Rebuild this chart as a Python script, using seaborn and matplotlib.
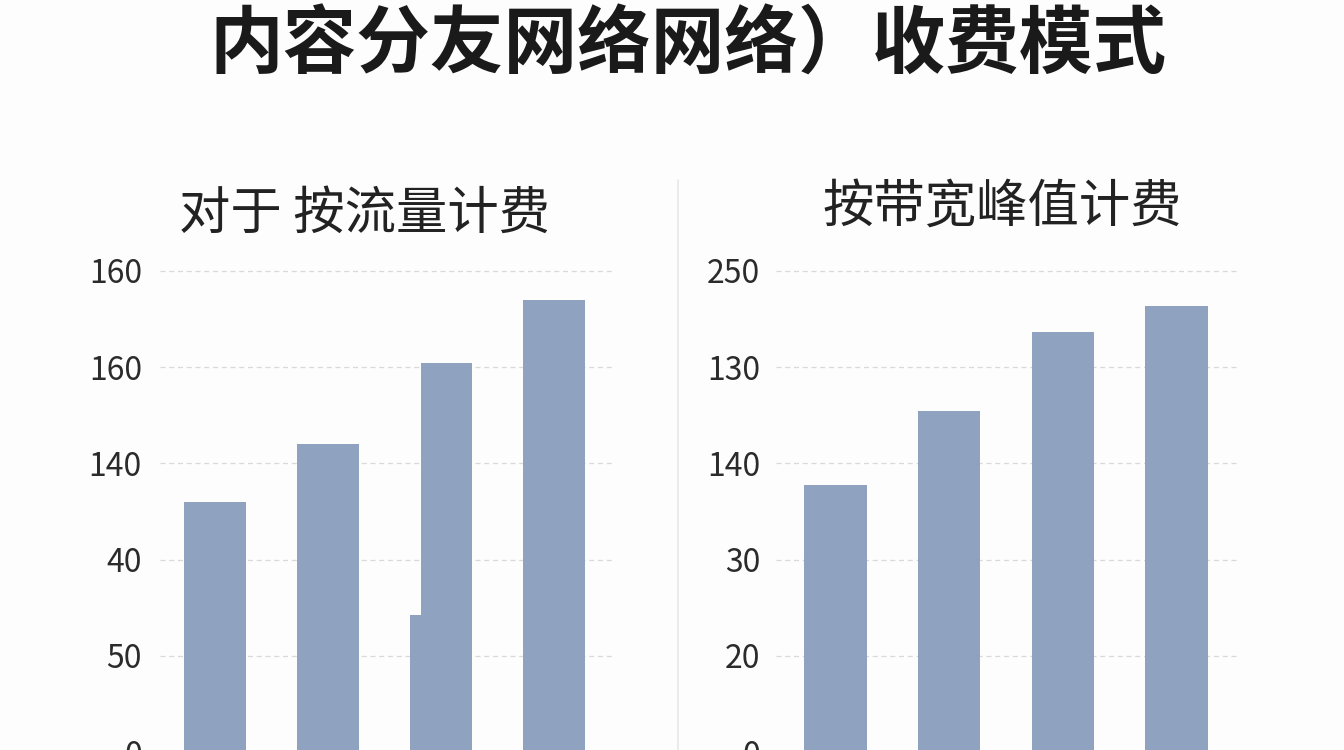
import numpy as np
import pandas as pd
import seaborn as sns
import matplotlib.pyplot as plt
from matplotlib.lines import Line2D

# Chart values (the axis labels in the source are not monotonic, so the
# bars sit on a 0-250 scale and the tick texts are kept as read)
tiers = ["档位1", "档位2", "档位3", "档位4"]
traffic_values = [130, 160, 202, 235]
traffic_step = 71            # short step on the left side of the third bar
peak_values = [139, 177, 218, 232]

tick_positions = [0, 50, 100, 150, 200, 250]
traffic_ticklabels = ["0", "50", "40", "140", "160", "160"]
peak_ticklabels = ["0", "20", "30", "140", "130", "250"]

main_title = "内容分友网络网络）收费模式"
traffic_title = "对于 按流量计费"
peak_title = "按带宽峰值计费"

bar_color = "#8fa3c1"

sns.set_theme(style="white")
plt.rcParams['font.family'] = ['Noto Sans CJK SC', 'DejaVu Sans']

fig = plt.figure(figsize=(13.44, 7.5), dpi=100)
fig.patch.set_facecolor("#fdfdfd")

ax_l = fig.add_axes([0.119, -0.0027, 0.3385, 0.68])
ax_r = fig.add_axes([0.5774, -0.0027, 0.343, 0.68])

bar_w = 0.55


def draw_panel(ax, values, ticklabels, pad, xlim):
    df = pd.DataFrame({"tier": tiers, "value": values})
    sns.barplot(data=df, x="tier", y="value", color=bar_color,
                width=bar_w, saturation=1, linewidth=0, edgecolor="none",
                ax=ax, zorder=3)
    ax.set_facecolor("none")
    ax.set_ylim(0, 265)
    ax.set_xlim(*xlim)
    ax.set_yticks(tick_positions)
    ax.set_yticklabels(ticklabels)
    ax.tick_params(axis="y", length=0, pad=pad, labelsize=23, labelcolor="#2b2b2b")
    ax.set_xticks([])
    ax.set_xlabel("")
    ax.set_ylabel("")
    ax.grid(axis="y", color="#d9d9d9", linestyle=(0, (4, 3)), linewidth=0.9, zorder=0)
    ax.set_axisbelow(True)
    for s in ax.spines.values():
        s.set_visible(False)


draw_panel(ax_l, traffic_values, traffic_ticklabels, 13, (-0.487, 3.54))
draw_panel(ax_r, peak_values, peak_ticklabels, 11.5, (-0.52, 3.53))

# third traffic bar: narrow upper part plus a wider short step at its base
p = ax_l.patches[2]
p.set_x(p.get_x() + 0.1)
p.set_width(p.get_width() - 0.1)
ax_l.bar(2, traffic_step, width=bar_w, color=bar_color, linewidth=0, zorder=3)

# titles
fig.text(0.512, 0.938, main_title, ha="center", va="center",
         fontsize=53, fontweight="bold", color="#1a1a1a")
fig.text(0.2715, 0.715, traffic_title, ha="center", va="center",
         fontsize=37, color="#222222")
fig.text(0.7455, 0.724, peak_title, ha="center", va="center",
         fontsize=37, color="#222222")

# thin divider between the two panels
fig.add_artist(Line2D([0.5045, 0.5045], [0.0, 0.76], transform=fig.transFigure,
                      color="#e8e8e8", linewidth=1.2))

fig.savefig("out.png", dpi=100, facecolor=fig.get_facecolor())
